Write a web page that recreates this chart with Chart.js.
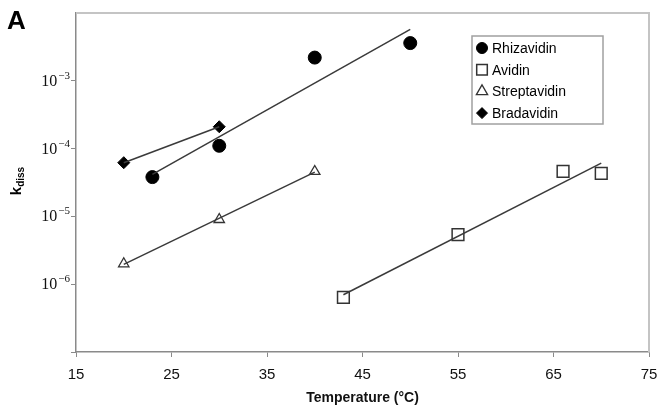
<!DOCTYPE html>
<html>
<head>
<meta charset="utf-8">
<script src="https://cdn.jsdelivr.net/npm/chart.js@4.4.0/dist/chart.umd.min.js"></script>
<style>
	html, body { margin: 0; padding: 0; background: #fff; }
	#wrap { width: 660px; height: 408px; }
</style>
</head>
<body>
<div id="wrap"><canvas id="kdiss-chart" width="660" height="408"></canvas></div>
<script>
// 데이터
var rhizaTemp = [23, 30, 40, 50];
var rhizaK = [3.8e-5, 1.1e-4, 2.2e-3, 3.6e-3];

var avidinTemp = [43, 55, 66, 70];
var avidinK = [6.4e-7, 5.4e-6, 4.6e-5, 4.3e-5];

var streptTemp = [20, 30, 40];
var streptK = [2.0e-6, 9.0e-6, 4.6e-5];

var bradaTemp = [20, 30];
var bradaK = [6.2e-5, 2.1e-4];

var xTicks = [15, 25, 35, 45, 55, 65, 75];
var yExponents = [-7, -6, -5, -4, -3];
var yLabelled = [-6, -5, -4, -3];

function toPoints(xs, ys) {
	return xs.map(function(x, i) { return { x: x, y: ys[i] }; });
}

// 지수 추세선 (log10 에 대한 최소제곱)
function trend(xs, ys) {
	var n = xs.length, sx = 0, sy = 0, sxx = 0, sxy = 0;
	for (var i = 0; i < n; i++) {
		var ly = Math.log10(ys[i]);
		sx += xs[i]; sy += ly; sxx += xs[i] * xs[i]; sxy += xs[i] * ly;
	}
	var b = (n * sxy - sx * sy) / (n * sxx - sx * sx);
	var a = (sy - b * sx) / n;
	var x0 = Math.min.apply(null, xs), x1 = Math.max.apply(null, xs);
	return [{ x: x0, y: Math.pow(10, a + b * x0) }, { x: x1, y: Math.pow(10, a + b * x1) }];
}

var lineColor = '#3a3a3a';

function trendSet(xs, ys) {
	return {
		type: 'line',
		data: trend(xs, ys),
		borderColor: lineColor,
		borderWidth: 1.5,
		pointRadius: 0,
		fill: false,
		inLegend: false
	};
}

var series = [
	{ label: 'Rhizavidin', data: toPoints(rhizaTemp, rhizaK), pointStyle: 'circle', pointRadius: 6.5, backgroundColor: '#000', borderColor: '#000', borderWidth: 1 },
	{ label: 'Avidin', data: toPoints(avidinTemp, avidinK), pointStyle: 'rect', pointRadius: 8.3, backgroundColor: '#fff', borderColor: '#333', borderWidth: 1.5 },
	{ label: 'Streptavidin', data: toPoints(streptTemp, streptK), pointStyle: 'triangle', pointRadius: 6, backgroundColor: '#fff', borderColor: '#333', borderWidth: 1.3 },
	{ label: 'Bradavidin', data: toPoints(bradaTemp, bradaK), pointStyle: 'rectRot', pointRadius: 6, backgroundColor: '#000', borderColor: '#000', borderWidth: 1 }
];

var datasets = [
	trendSet(rhizaTemp, rhizaK),
	trendSet(avidinTemp, avidinK),
	trendSet(streptTemp, streptK),
	trendSet(bradaTemp, bradaK)
].concat(series.map(function(s) {
	s.type = 'scatter';
	s.showLine = false;
	s.inLegend = true;
	s.pointHoverRadius = s.pointRadius;
	return s;
}));

var serif = '"Liberation Serif", "Times New Roman", serif';
var sans = '"Liberation Sans", Arial, sans-serif';

// 테두리, 범례, 축 제목, y 눈금 글자 그리기
var decorPlugin = {
	id: 'decor',
	afterDraw: function(chart) {
		var ctx = chart.ctx, area = chart.chartArea;
		ctx.save();

		// 위쪽, 오른쪽 테두리
		ctx.strokeStyle = '#c4c4c4';
		ctx.lineWidth = 2;
		ctx.beginPath();
		ctx.moveTo(area.left, area.top);
		ctx.lineTo(area.right, area.top);
		ctx.lineTo(area.right, area.bottom);
		ctx.stroke();

		// y 눈금 글자 (10 의 거듭제곱, 위첨자)
		var yScale = chart.scales.y;
		ctx.fillStyle = '#111';
		ctx.textBaseline = 'alphabetic';
		ctx.textAlign = 'left';
		yLabelled.forEach(function(e) {
			var py = yScale.getPixelForValue(Math.pow(10, e));
			var exp = String(e).replace('-', '\u2212');
			ctx.font = '11px ' + serif;
			var ew = ctx.measureText(exp).width;
			ctx.font = '16px ' + serif;
			var bw = ctx.measureText('10').width;
			var x0 = area.left - 7 - ew - bw;
			ctx.fillText('10', x0, py + 5);
			ctx.font = '11px ' + serif;
			ctx.fillText(exp, x0 + bw + 1, py - 2);
		});

		// 범례
		var bx = 472, by = 36, bw2 = 131, bh = 88;
		ctx.strokeStyle = '#a0a0a0';
		ctx.lineWidth = 1.5;
		ctx.fillStyle = '#fff';
		ctx.fillRect(bx, by, bw2, bh);
		ctx.strokeRect(bx, by, bw2, bh);
		ctx.font = '14px ' + sans;
		ctx.textBaseline = 'middle';
		ctx.textAlign = 'left';
		var rows = chart.data.datasets.filter(function(d) { return d.inLegend; });
		rows.forEach(function(d, i) {
			var yy = 48 + i * 21.7;
			ctx.fillStyle = d.backgroundColor;
			ctx.strokeStyle = d.borderColor;
			ctx.lineWidth = d.borderWidth;
			var r = d.pointStyle === 'rect' ? 7.5 : (d.pointStyle === 'triangle' ? 6.5 : 5.5);
			Chart.helpers.drawPoint(ctx, { pointStyle: d.pointStyle, radius: r, borderWidth: d.borderWidth }, 482, yy);
			ctx.fillStyle = '#000';
			ctx.fillText(d.label, 492, yy + 1);
		});

		// "A"
		ctx.fillStyle = '#000';
		ctx.font = 'bold 26px ' + sans;
		ctx.textBaseline = 'alphabetic';
		ctx.fillText('A', 7, 29);

		// y 축 제목 k_diss
		ctx.translate(21, 181);
		ctx.rotate(-Math.PI / 2);
		ctx.font = 'bold 15px ' + sans;
		var kw = ctx.measureText('k').width;
		ctx.font = 'bold 10px ' + sans;
		var dw = ctx.measureText('diss').width;
		var sx = -(kw + dw) / 2;
		ctx.font = 'bold 15px ' + sans;
		ctx.fillText('k', sx, 0);
		ctx.font = 'bold 10px ' + sans;
		ctx.fillText('diss', sx + kw, 3);
		ctx.restore();
	}
};

new Chart(document.getElementById('kdiss-chart'), {
	type: 'scatter',
	data: { datasets: datasets },
	plugins: [decorPlugin],
	options: {
		responsive: false,
		animation: false,
		layout: { padding: { top: 13, right: 11, left: 0, bottom: 0 } },
		plugins: {
			legend: { display: false },
			tooltip: { enabled: false }
		},
		scales: {
			x: {
				type: 'linear',
				min: 15,
				max: 75,
				afterBuildTicks: function(scale) {
					scale.ticks = xTicks.map(function(v) { return { value: v }; });
				},
				afterFit: function(scale) {
					scale.height = 56;
					scale.paddingLeft = 0;
					scale.paddingRight = 0;
				},
				grid: { drawOnChartArea: false, drawTicks: true, tickLength: 5, color: '#8a8a8a' },
				border: { color: '#8a8a8a', width: 1.5 },
				ticks: {
					color: '#111',
					font: { family: sans, size: 15 },
					padding: 9,
					maxRotation: 0
				},
				title: {
					display: true,
					text: 'Temperature (°C)',
					color: '#111',
					font: { family: sans, size: 14, weight: 'bold' },
					padding: { top: 0, bottom: 1 }
				}
			},
			y: {
				type: 'logarithmic',
				min: 1e-7,
				max: 1e-2,
				afterBuildTicks: function(scale) {
					scale.ticks = yExponents.map(function(e) { return { value: Math.pow(10, e) }; });
				},
				afterFit: function(scale) {
					scale.width = 76;
					scale.paddingTop = 0;
					scale.paddingBottom = 0;
				},
				grid: { drawOnChartArea: false, drawTicks: true, tickLength: 5, color: '#8a8a8a' },
				border: { color: '#8a8a8a', width: 1.5 },
				ticks: {
					callback: function() { return ''; }
				}
			}
		}
	}
});
</script>
</body>
</html>
